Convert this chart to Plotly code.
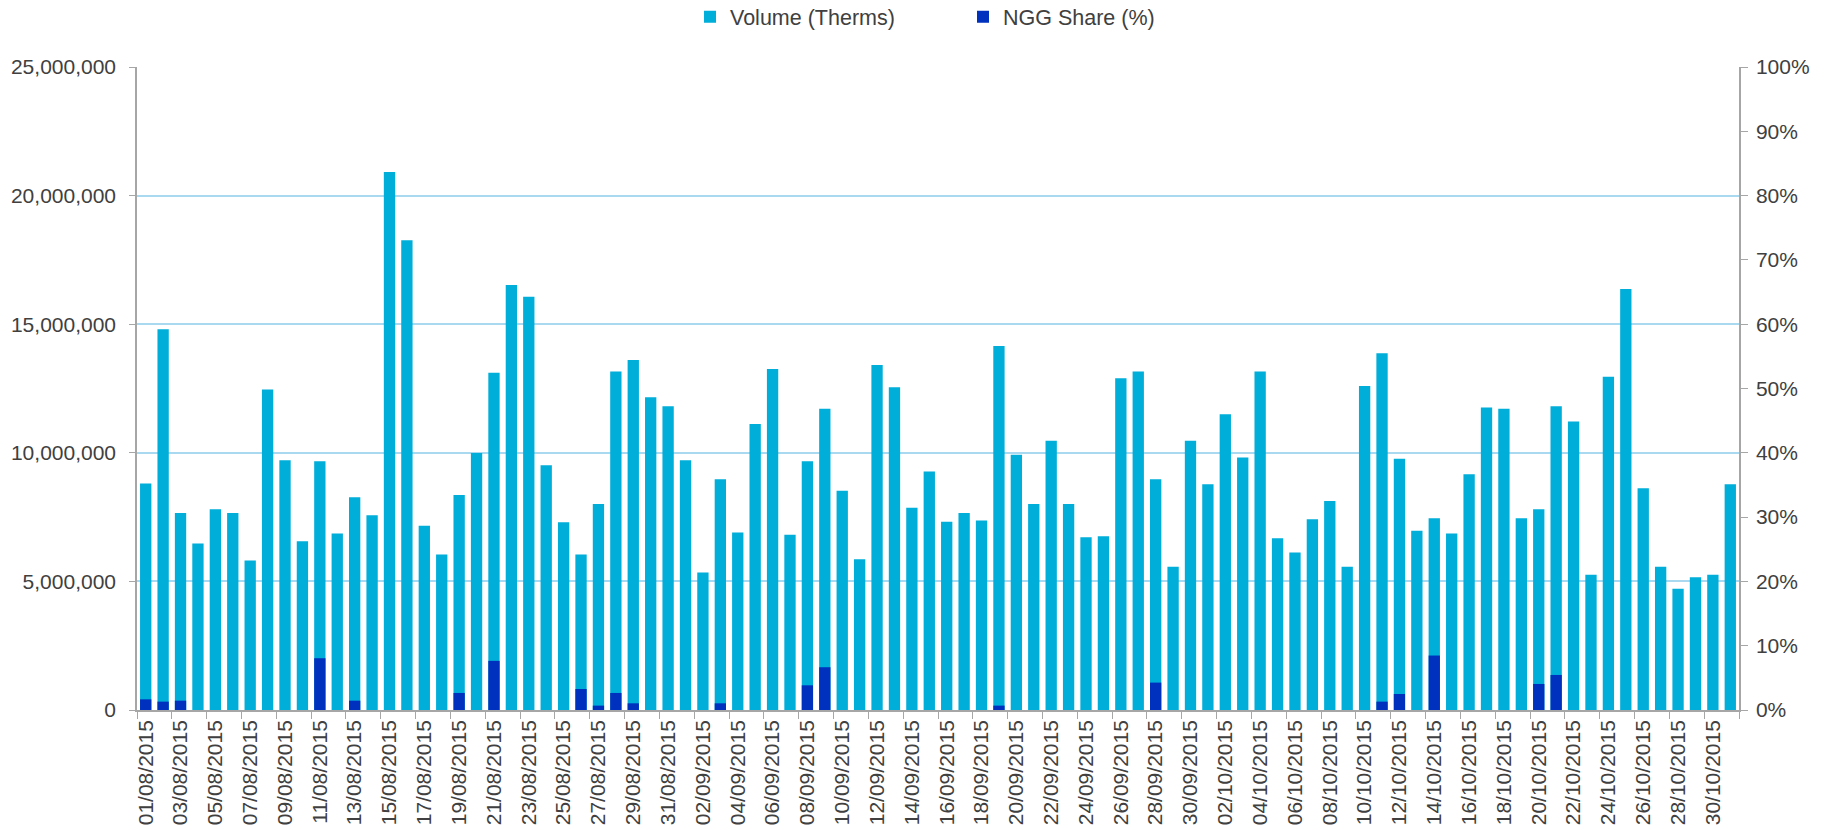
import plotly.graph_objects as go

# Categories (daily dates)
aug = [f"{d:02d}/08/2015" for d in range(1, 32)]
sep = [f"{d:02d}/09/2015" for d in range(1, 31)]
octo = [f"{d:02d}/10/2015" for d in range(1, 32)]
dates = aug + sep + octo

# Volume (Therms), millions
vol_aug = [8.81, 14.80, 7.66, 6.47, 7.81, 7.66, 5.81, 12.46, 9.71, 6.56,
           9.67, 6.86, 8.27, 7.57, 20.92, 18.26, 7.16, 6.05, 8.36, 9.99,
           13.11, 16.52, 16.07, 9.52, 7.30, 6.05, 8.01, 13.16, 13.61, 12.16,
           11.81]
vol_sep = [9.71, 5.35, 8.97, 6.90, 11.12, 13.26, 6.81, 9.67, 11.71, 8.52,
           5.86, 13.41, 12.55, 7.86, 9.27, 7.32, 7.66, 7.37, 14.15, 9.92,
           8.01, 10.47, 8.01, 6.72, 6.76, 12.90, 13.16, 8.97, 5.57, 10.47]
vol_oct = [8.78, 11.50, 9.82, 13.16, 6.68, 6.12, 7.42, 8.13, 5.57, 12.60,
           13.87, 9.77, 6.97, 7.46, 6.86, 9.17, 11.76, 11.71, 7.46, 7.81,
           11.81, 11.22, 5.26, 12.96, 16.37, 8.62, 5.57, 4.71, 5.16, 5.26,
           8.78]
volume = [v * 1_000_000 for v in vol_aug + vol_sep + vol_oct]

# NGG Share (%)
ngg_aug = [1.66, 1.30, 1.45, 0, 0, 0, 0, 0, 0, 0,
           8.05, 0, 1.45, 0, 0, 0, 0, 0, 2.65, 0,
           7.64, 0, 0, 0, 0, 3.27, 0.68, 2.65, 1.04, 0,
           0]
ngg_sep = [0, 0, 1.04, 0, 0, 0, 0, 3.84, 6.65, 0,
           0, 0, 0, 0, 0, 0, 0, 0, 0.68, 0,
           0, 0, 0, 0, 0, 0, 0, 4.26, 0, 0]
ngg_oct = [0, 0, 0, 0, 0, 0, 0, 0, 0, 0,
           1.30, 2.49, 0, 8.47, 0, 0, 0, 0, 0, 4.05,
           5.45, 0, 0, 0, 0, 0, 0, 0, 0, 0,
           0]
ngg_share = ngg_aug + ngg_sep + ngg_oct

FONT = "Liberation Sans, Arial, sans-serif"
TEXT = "#404040"
AXIS = "#A6A6A6"
GRID = "#A9D9F0"
FS = 21

fig = go.Figure()
fig.add_trace(go.Bar(x=dates, y=volume, name="Volume (Therms)",
                     marker=dict(color="#00AEDA", line=dict(width=0)),
                     yaxis="y"))
fig.add_trace(go.Bar(x=dates, y=ngg_share, name="NGG Share (%)",
                     marker=dict(color="#0030BE", line=dict(width=0)),
                     yaxis="y2"))

fig.update_layout(
    width=1829, height=830,
    margin=dict(l=137, r=90, t=67, b=120, autoexpand=False),
    paper_bgcolor="white", plot_bgcolor="white",
    font=dict(family=FONT, size=FS, color=TEXT),
    barmode="overlay", bargap=0.35,
    showlegend=True,
    legend=dict(orientation="h", x=0.3452, xanchor="left", y=1.078, yanchor="middle",
                font=dict(size=21.5, color=TEXT), entrywidthmode="pixels", entrywidth=228,
                itemwidth=30, bgcolor="rgba(0,0,0,0)"),
    xaxis=dict(type="category", tickangle=-90, dtick=2, tickson="boundaries",
               ticks="outside", ticklen=7, tickcolor=AXIS, showgrid=False,
               showline=True, linecolor=AXIS, linewidth=1.5,
               tickfont=dict(size=FS, color=TEXT), range=[-0.5, len(dates) - 0.5]),
    yaxis=dict(range=[0, 25_000_000], dtick=5_000_000, tickformat=",",
               showgrid=True, gridcolor=GRID, gridwidth=1.5,
               showline=True, linecolor=AXIS, linewidth=1.5,
               ticks="outside", ticklen=6, tickcolor=AXIS,
               ticklabelstandoff=9, zeroline=False,
               tickfont=dict(size=FS, color=TEXT)),
    yaxis2=dict(range=[0, 100], dtick=10, ticksuffix="%", overlaying="y", side="right",
                showgrid=False, showline=True, linecolor=AXIS, linewidth=1.5,
                ticks="outside", ticklen=7, tickcolor=AXIS, ticklabelstandoff=4,
                zeroline=False, tickfont=dict(size=FS, color=TEXT)),
)

fig.write_html("out.html", config={"displayModeBar": False},
               post_script="document.body.style.margin='0px';")
